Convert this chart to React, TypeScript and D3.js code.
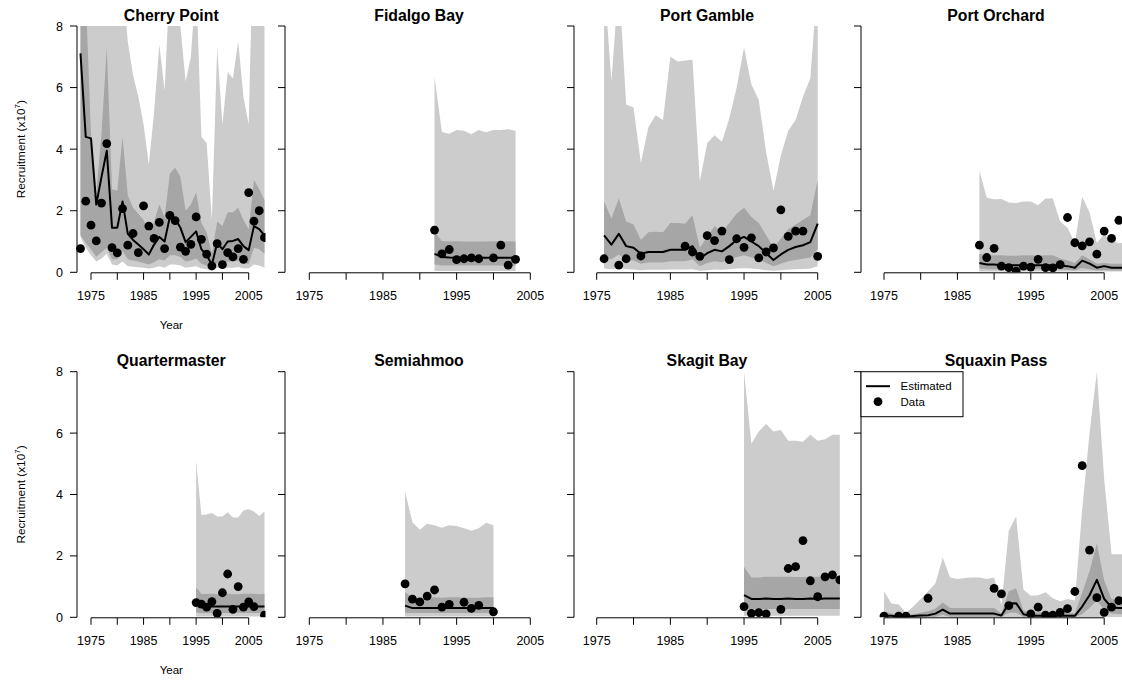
import React from 'react';
import * as d3 from 'd3';

// ---- data (values in units of 10^7) ----

// Cherry Point, 1973-2008
const cherryStart = 1973;
const cherryData = [0.77, 2.31, 1.53, 1.02, 2.25, 4.18, 0.80, 0.63, 2.07, 0.88, 1.26, 0.64, 2.16, 1.50, 1.10, 1.62, 0.77, 1.85, 1.68, 0.82, 0.68, 0.91, 1.80, 1.07, 0.59, 0.21, 0.93, 0.25, 0.64, 0.50, 0.77, 0.42, 2.59, 1.66, 2.00, 1.13];
const cherryEst = [7.11, 4.40, 4.35, 2.20, 3.10, 3.95, 1.45, 1.45, 2.30, 1.25, 1.05, 0.90, 0.75, 0.58, 0.90, 1.15, 1.00, 1.80, 1.75, 1.45, 0.98, 1.15, 1.33, 0.75, 0.55, 0.25, 0.95, 0.75, 1.00, 1.02, 1.08, 0.85, 0.72, 1.50, 1.40, 1.20];
const cherryDarkHi = [9, 9, 4.5, 2.6, 4.5, 7.3, 2.7, 2.65, 4.4, 2.5, 2.1, 1.9, 1.7, 1.3, 1.65, 2.2, 1.8, 3.2, 3.4, 3.1, 2.0, 2.2, 2.6, 1.6, 1.3, 0.6, 1.65, 1.5, 1.95, 1.95, 2.1, 1.7, 1.4, 3.0, 2.7, 2.35];
const cherryDarkLo = [1.2, 0.95, 0.75, 0.5, 0.65, 0.8, 0.42, 0.42, 0.7, 0.42, 0.38, 0.35, 0.3, 0.25, 0.33, 0.42, 0.38, 0.55, 0.55, 0.5, 0.35, 0.38, 0.45, 0.28, 0.22, 0.1, 0.3, 0.28, 0.35, 0.35, 0.38, 0.3, 0.27, 0.8, 0.75, 0.6];
const cherryLightHi = [12, 12, 12, 10, 12, 14, 10, 10, 9.5, 7.5, 6.4, 5.7, 4.8, 3.5, 5.2, 7.4, 5.9, 9.5, 9.5, 8.0, 6.2, 7.0, 9.5, 4.4, 4.2, 1.7, 7.3, 4.8, 6.5, 6.3, 7.5, 5.7, 4.8, 12, 10, 9];
const cherryLightLo = [1.15, 0.8, 0.55, 0.35, 0.45, 0.6, 0.25, 0.22, 0.35, 0.2, 0.18, 0.16, 0.15, 0.12, 0.15, 0.2, 0.15, 0.25, 0.25, 0.22, 0.15, 0.17, 0.2, 0.12, 0.1, 0.05, 0.14, 0.12, 0.15, 0.15, 0.17, 0.13, 0.12, 0.25, 0.22, 0.15];

// Fidalgo Bay, 1992-2003
const fidalgoStart = 1992;
const fidalgoData = [1.37, 0.60, 0.74, 0.41, 0.44, 0.47, 0.44, null, 0.47, 0.88, 0.23, 0.42];
const fidalgoEst = [0.60, 0.50, 0.48, 0.47, 0.47, 0.47, 0.47, 0.47, 0.47, 0.47, 0.47, 0.47];
const fidalgoDarkHi = [1.30, 1.02, 1.00, 1.01, 1.00, 1.00, 1.00, 1.00, 1.01, 1.00, 1.01, 1.00];
const fidalgoDarkLo = [0.25, 0.22, 0.22, 0.22, 0.22, 0.22, 0.22, 0.22, 0.22, 0.22, 0.22, 0.22];
const fidalgoLightHi = [6.35, 4.56, 4.50, 4.62, 4.60, 4.48, 4.62, 4.55, 4.62, 4.62, 4.65, 4.60];
const fidalgoLightLo = [0.04, 0.04, 0.04, 0.04, 0.04, 0.04, 0.04, 0.04, 0.04, 0.04, 0.04, 0.04];

// Port Gamble, 1976-2005
const gambleStart = 1976;
const gambleData = [0.44, null, 0.23, 0.44, null, 0.53, null, null, null, null, null, 0.85, 0.66, 0.52, 1.19, 1.03, 1.34, 0.41, 1.09, 0.81, 1.12, 0.47, 0.66, 0.79, 2.03, 1.17, 1.34, 1.34, null, 0.52];
const gambleEst = [1.20, 0.90, 1.25, 0.85, 0.80, 0.60, 0.66, 0.66, 0.66, 0.73, 0.73, 0.73, 0.85, 0.45, 0.62, 0.73, 0.68, 0.85, 1.05, 1.15, 1.00, 0.85, 0.62, 0.40, 0.58, 0.73, 0.82, 0.88, 0.98, 1.58];
const gambleDarkHi = [2.30, 1.75, 2.40, 1.65, 1.55, 1.05, 1.30, 1.32, 1.30, 1.60, 1.60, 1.58, 1.85, 0.80, 1.15, 1.50, 1.30, 1.60, 1.90, 2.10, 1.80, 1.60, 1.20, 0.80, 1.10, 1.40, 1.55, 1.70, 1.85, 3.00];
const gambleDarkLo = [0.50, 0.42, 0.58, 0.40, 0.38, 0.28, 0.32, 0.32, 0.32, 0.36, 0.36, 0.36, 0.42, 0.20, 0.30, 0.36, 0.33, 0.42, 0.50, 0.55, 0.48, 0.42, 0.30, 0.20, 0.28, 0.36, 0.40, 0.44, 0.48, 0.75];
const gambleLightHi = [9.5, 6.2, 9.5, 5.45, 5.35, 3.55, 4.70, 5.10, 4.95, 7.00, 6.85, 6.88, 6.90, 2.95, 4.20, 4.45, 4.24, 5.00, 6.00, 7.30, 6.10, 5.60, 3.90, 2.65, 3.80, 4.60, 4.95, 5.70, 6.30, 9.5];
const gambleLightLo = [0.12, 0.10, 0.14, 0.10, 0.09, 0.07, 0.08, 0.08, 0.08, 0.09, 0.09, 0.09, 0.10, 0.05, 0.07, 0.09, 0.08, 0.10, 0.12, 0.13, 0.12, 0.10, 0.07, 0.05, 0.07, 0.09, 0.10, 0.11, 0.12, 0.20];

// Port Orchard, 1988-2008
const orchardStart = 1988;
const orchardData = [0.88, 0.48, 0.78, 0.20, 0.15, 0.04, 0.20, 0.17, 0.42, 0.15, 0.14, 0.25, 1.78, 0.96, 0.86, 0.99, 0.59, 1.34, 1.10, 1.69, null];
const orchardEst = [0.30, 0.25, 0.25, 0.23, 0.23, 0.23, 0.23, 0.23, 0.23, 0.23, 0.23, 0.22, 0.20, 0.15, 0.38, 0.28, 0.15, 0.20, 0.15, 0.15, 0.15];
const orchardDarkHi = [0.60, 0.55, 0.55, 0.55, 0.54, 0.54, 0.55, 0.55, 0.54, 0.55, 0.55, 0.45, 0.38, 0.30, 0.55, 0.42, 0.28, 0.30, 0.28, 0.28, 0.28];
const orchardDarkLo = [0.12, 0.10, 0.10, 0.10, 0.10, 0.10, 0.10, 0.10, 0.10, 0.10, 0.10, 0.09, 0.08, 0.06, 0.14, 0.10, 0.06, 0.07, 0.06, 0.06, 0.06];
const orchardLightHi = [3.30, 2.42, 2.37, 2.38, 2.27, 2.25, 2.30, 2.30, 2.18, 2.40, 2.40, 1.65, 1.45, 0.95, 2.45, 1.95, 0.95, 1.25, 1.00, 0.95, 0.95];
const orchardLightLo = [0.03, 0.03, 0.03, 0.03, 0.03, 0.03, 0.03, 0.03, 0.03, 0.03, 0.03, 0.03, 0.03, 0.03, 0.03, 0.03, 0.03, 0.03, 0.03, 0.03, 0.03];

// Quartermaster, 1995-2008
const quarterStart = 1995;
const quarterData = [0.48, 0.43, 0.33, 0.51, 0.13, 0.80, 1.41, 0.26, 1.00, 0.33, 0.50, 0.35, null, 0.07];
const quarterEst = [0.48, 0.38, 0.35, 0.35, 0.35, 0.35, 0.35, 0.35, 0.35, 0.35, 0.35, 0.35, 0.35, 0.35];
const quarterDarkHi = [0.98, 0.76, 0.76, 0.77, 0.75, 0.75, 0.77, 0.75, 0.75, 0.77, 0.77, 0.77, 0.75, 0.77];
const quarterDarkLo = [0.16, 0.14, 0.14, 0.14, 0.14, 0.14, 0.14, 0.14, 0.14, 0.14, 0.14, 0.14, 0.14, 0.14];
const quarterLightHi = [5.10, 3.33, 3.35, 3.40, 3.28, 3.28, 3.42, 3.25, 3.25, 3.48, 3.52, 3.45, 3.30, 3.45];
const quarterLightLo = [0.03, 0.03, 0.03, 0.03, 0.03, 0.03, 0.03, 0.03, 0.03, 0.03, 0.03, 0.03, 0.03, 0.03];

// Semiahmoo, 1988-2000
const semiStart = 1988;
const semiData = [1.09, 0.59, 0.50, 0.69, 0.89, 0.33, 0.42, null, 0.49, 0.29, 0.39, null, 0.18];
const semiEst = [0.38, 0.30, 0.30, 0.30, 0.30, 0.30, 0.30, 0.30, 0.30, 0.30, 0.30, 0.30, 0.30];
const semiDarkHi = [0.82, 0.65, 0.62, 0.64, 0.65, 0.64, 0.65, 0.65, 0.64, 0.64, 0.64, 0.65, 0.65];
const semiDarkLo = [0.15, 0.14, 0.14, 0.14, 0.14, 0.14, 0.14, 0.14, 0.14, 0.14, 0.14, 0.14, 0.14];
const semiLightHi = [4.10, 3.10, 2.85, 3.05, 3.00, 2.92, 3.00, 2.97, 2.90, 2.82, 2.90, 3.08, 3.00];
const semiLightLo = [0.03, 0.03, 0.03, 0.03, 0.03, 0.03, 0.03, 0.03, 0.03, 0.03, 0.03, 0.03, 0.03];

// Skagit Bay, 1995-2008
const skagitStart = 1995;
const skagitData = [0.35, 0.13, 0.15, 0.11, null, 0.26, 1.59, 1.65, 2.50, 1.19, 0.67, 1.32, 1.38, 1.22];
const skagitEst = [0.72, 0.60, 0.60, 0.61, 0.60, 0.60, 0.61, 0.60, 0.60, 0.61, 0.60, 0.61, 0.61, 0.61];
const skagitDarkHi = [1.65, 1.30, 1.30, 1.32, 1.32, 1.32, 1.32, 1.31, 1.31, 1.32, 1.32, 1.32, 1.32, 1.32];
const skagitDarkLo = [0.28, 0.27, 0.27, 0.27, 0.27, 0.27, 0.27, 0.27, 0.27, 0.27, 0.27, 0.27, 0.27, 0.27];
const skagitLightHi = [8.00, 5.65, 6.05, 6.30, 6.05, 6.10, 5.75, 5.75, 5.72, 5.95, 5.75, 5.80, 5.95, 5.95];
const skagitLightLo = [0.05, 0.05, 0.05, 0.05, 0.05, 0.05, 0.05, 0.05, 0.05, 0.05, 0.05, 0.05, 0.05, 0.05];

// Squaxin Pass, 1975-2008
const squaxinStart = 1975;
const squaxinData = [0.04, null, 0.04, 0.04, null, null, 0.62, null, null, null, null, null, null, null, null, 0.94, 0.76, 0.38, null, null, 0.11, 0.33, 0.07, 0.07, 0.16, 0.28, 0.84, 4.94, 2.19, 0.64, 0.16, 0.33, 0.54, null];
const squaxinEst = [0.05, 0.05, 0.02, 0.02, 0.04, 0.06, 0.07, 0.12, 0.25, 0.12, 0.12, 0.12, 0.12, 0.12, 0.12, 0.12, 0.06, 0.45, 0.46, 0.10, 0.05, 0.05, 0.05, 0.05, 0.05, 0.05, 0.05, 0.35, 0.72, 1.22, 0.60, 0.32, 0.30, 0.30];
const squaxinDarkHi = [0.18, 0.12, 0.10, 0.06, 0.10, 0.15, 0.20, 0.28, 0.48, 0.30, 0.30, 0.30, 0.30, 0.30, 0.30, 0.30, 0.12, 0.85, 0.95, 0.22, 0.15, 0.16, 0.17, 0.14, 0.13, 0.14, 0.13, 0.80, 1.50, 2.40, 1.20, 0.60, 0.55, 0.55];
const squaxinDarkLo = [0.01, 0.01, 0.01, 0.01, 0.01, 0.01, 0.01, 0.02, 0.08, 0.02, 0.02, 0.02, 0.02, 0.02, 0.02, 0.02, 0.01, 0.15, 0.15, 0.01, 0.01, 0.01, 0.01, 0.01, 0.01, 0.01, 0.01, 0.10, 0.30, 0.55, 0.25, 0.12, 0.10, 0.10];
const squaxinLightHi = [0.85, 0.45, 0.42, 0.15, 0.35, 0.60, 0.85, 1.10, 1.95, 1.30, 1.25, 1.28, 1.30, 1.30, 1.25, 1.30, 0.40, 2.82, 3.28, 0.90, 0.70, 0.72, 0.82, 0.62, 0.52, 0.60, 0.55, 3.50, 6.00, 8.00, 4.50, 2.05, 2.05, 2.05];
const squaxinLightLo = [0, 0, 0, 0, 0, 0, 0, 0, 0, 0, 0, 0, 0, 0, 0, 0, 0, 0, 0, 0, 0, 0, 0, 0, 0, 0, 0, 0, 0, 0, 0, 0, 0, 0];

const siteNames = ['Cherry Point', 'Fidalgo Bay', 'Port Gamble', 'Port Orchard', 'Quartermaster', 'Semiahmoo', 'Skagit Bay', 'Squaxin Pass'];
const xTicks = [1975, 1980, 1985, 1990, 1995, 2000, 2005];
const xTickLabels = [1975, 1985, 1995, 2005];
const yTicks = [0, 2, 4, 6, 8];

// ---- layout (pixel positions of each panel) ----
const svgWidth = 1122;
const svgHeight = 683;
const colAxisX = [77, 285, 574, 861];
const colX1975 = [91, 309.3, 596.7, 884];
const colX2005 = [248.7, 530.3, 817.7, 1104.2];
const colRight = [265.5, 553, 840, 1131];
const rowTop = [26, 371.7];
const rowBottom = [272.3, 617.3];

const LIGHT = '#cccccc';
const DARK = '#a6a6a6';
const FONT = '"Liberation Sans", Arial, Helvetica, sans-serif';

const siteSeries = [
  [cherryStart, cherryData, cherryEst, cherryDarkLo, cherryDarkHi, cherryLightLo, cherryLightHi],
  [fidalgoStart, fidalgoData, fidalgoEst, fidalgoDarkLo, fidalgoDarkHi, fidalgoLightLo, fidalgoLightHi],
  [gambleStart, gambleData, gambleEst, gambleDarkLo, gambleDarkHi, gambleLightLo, gambleLightHi],
  [orchardStart, orchardData, orchardEst, orchardDarkLo, orchardDarkHi, orchardLightLo, orchardLightHi],
  [quarterStart, quarterData, quarterEst, quarterDarkLo, quarterDarkHi, quarterLightLo, quarterLightHi],
  [semiStart, semiData, semiEst, semiDarkLo, semiDarkHi, semiLightLo, semiLightHi],
  [skagitStart, skagitData, skagitEst, skagitDarkLo, skagitDarkHi, skagitLightLo, skagitLightHi],
  [squaxinStart, squaxinData, squaxinEst, squaxinDarkLo, squaxinDarkHi, squaxinLightLo, squaxinLightHi],
];

function buildRows(series) {
  const [start, data, est, dLo, dHi, lLo, lHi] = series;
  return est.map((e, k) => ({
    year: start + k,
    data: data[k],
    est: e,
    darkLo: dLo[k],
    darkHi: dHi[k],
    lightLo: lLo[k],
    lightHi: lHi[k],
  }));
}

function Panel({ idx }) {
  const col = idx % 4;
  const row = Math.floor(idx / 4);
  const rows = buildRows(siteSeries[idx]);
  const x = d3.scaleLinear().domain([1975, 2005]).range([colX1975[col], colX2005[col]]);
  const y = d3.scaleLinear().domain([0, 8]).range([rowBottom[row], rowTop[row]]);
  const left = colAxisX[col];
  const right = colRight[col];
  const top = rowTop[row];
  const bottom = rowBottom[row];
  const clipId = 'clip-' + idx;

  const lightArea = d3.area().x(d => x(d.year)).y0(d => y(d.lightLo)).y1(d => y(d.lightHi));
  const darkArea = d3.area().x(d => x(d.year)).y0(d => y(d.darkLo)).y1(d => y(d.darkHi));
  const estLine = d3.line().x(d => x(d.year)).y(d => y(d.est));
  const midX = (left + right) / 2;

  return (
    <g>
      <defs>
        <clipPath id={clipId}>
          <rect x={left - 6} y={top} width={right - left + 6} height={bottom - top} />
        </clipPath>
      </defs>
      <g clipPath={'url(#' + clipId + ')'}>
        <path d={lightArea(rows) || ''} fill={LIGHT} />
        <path d={darkArea(rows) || ''} fill={DARK} />
        <path d={estLine(rows) || ''} fill="none" stroke="#000" strokeWidth={2} strokeLinejoin="round" />
        {rows.filter(d => d.data != null).map(d => (
          <circle key={d.year} cx={x(d.year)} cy={y(d.data)} r={4.4} fill="#000" />
        ))}
      </g>
      {/* y axis */}
      <line x1={left} x2={left} y1={y(0)} y2={y(8)} stroke="#000" strokeWidth={1} />
      {yTicks.map(t => (
        <g key={t}>
          <line x1={left - 7} x2={left} y1={y(t)} y2={y(t)} stroke="#000" strokeWidth={1} />
          {col === 0 && (
            <text x={left - 14} y={y(t)} dy="0.36em" textAnchor="end" fontSize={12.5}>{t}</text>
          )}
        </g>
      ))}
      {/* x axis */}
      <line x1={x(1975)} x2={x(2005)} y1={bottom + 0.5} y2={bottom + 0.5} stroke="#000" strokeWidth={1} />
      {xTicks.map(t => (
        <line key={t} x1={x(t)} x2={x(t)} y1={bottom + 0.5} y2={bottom + 7.5} stroke="#000" strokeWidth={1} />
      ))}
      {xTickLabels.map(t => (
        <text key={t} x={x(t)} y={bottom + 27.5} textAnchor="middle" fontSize={12.5}>{t}</text>
      ))}
      <text x={midX} y={top - 5.5} textAnchor="middle" fontSize={15.8} fontWeight="bold">{siteNames[idx]}</text>
      {col === 0 && (
        <g>
          <text x={midX} y={bottom + 56.7} textAnchor="middle" fontSize={11.5}>Year</text>
          <text transform={'translate(25,' + (top + bottom) / 2 + ') rotate(-90)'} textAnchor="middle" fontSize={11.8}>
            Recruitment (x10<tspan dy="-5" fontSize={8}>7</tspan><tspan dy="5">)</tspan>
          </text>
        </g>
      )}
      {idx === 7 && (
        <g>
          <rect x={left} y={top} width={102} height={45} fill="#fff" stroke="#000" strokeWidth={1} />
          <line x1={left + 5} x2={left + 29} y1={top + 14.5} y2={top + 14.5} stroke="#000" strokeWidth={2} />
          <circle cx={left + 17} cy={top + 30} r={4.4} fill="#000" />
          <text x={left + 39.5} y={top + 14.5} dy="0.36em" fontSize={11.5}>Estimated</text>
          <text x={left + 39.5} y={top + 30} dy="0.36em" fontSize={11.5}>Data</text>
        </g>
      )}
    </g>
  );
}

export default function App() {
  return (
    <svg
      width={svgWidth}
      height={svgHeight}
      viewBox={'0 0 ' + svgWidth + ' ' + svgHeight}
      style={{ position: 'absolute', left: 0, top: 0, background: '#fff', fontFamily: FONT }}
    >
      <rect width={svgWidth} height={svgHeight} fill="#fff" />
      {siteNames.map((name, i) => <Panel key={name} idx={i} />)}
    </svg>
  );
}
